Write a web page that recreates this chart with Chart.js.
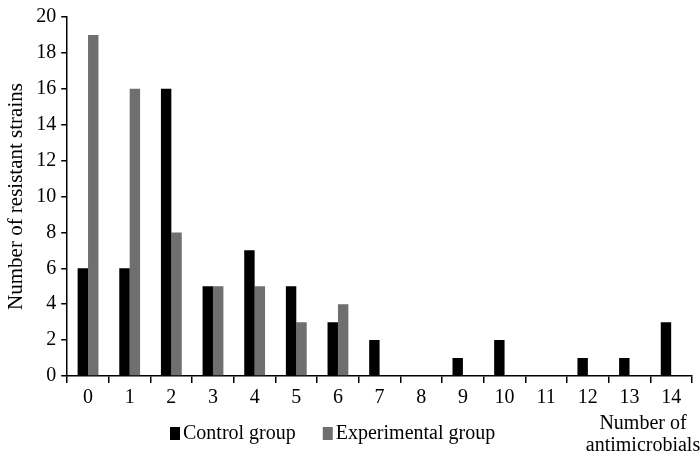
<!DOCTYPE html>
<html>
<head>
<meta charset="utf-8">
<script src="https://cdn.jsdelivr.net/npm/chart.js@4/dist/chart.umd.min.js"></script>
<style>
  html, body { margin: 0; padding: 0; background: #fff; }
  #wrap { width: 700px; height: 456px; position: relative; }
</style>
</head>
<body>
<div id="wrap"><canvas id="myChart"></canvas></div>
<script>
// data
var categories = ['0', '1', '2', '3', '4', '5', '6', '7', '8', '9', '10', '11', '12', '13', '14'];
var controlValues = [6, 6, 16, 5, 7, 5, 3, 2, 0, 1, 2, 0, 1, 1, 3];
var experimentalValues = [19, 16, 8, 5, 5, 3, 4, 0, 0, 0, 0, 0, 0, 0, 0];
var seriesNames = ['Control group', 'Experimental group'];
var seriesColors = ['#000000', '#6f6f6f'];
var yTitle = 'Number of resistant strains';
var xTitle = ['Number of', 'antimicrobials'];

var FONT = '"Liberation Serif", "Times New Roman", serif';

// legend + x title are drawn by hand so they can sit where the original has them
var bottomTexts = {
    id: 'bottomTexts',
    afterDraw: function (chart) {
        var ctx = chart.ctx;
        ctx.save();
        ctx.font = '20px ' + FONT;
        ctx.textBaseline = 'middle';
        var x = 170, y = 434;
        for (var i = 0; i < seriesNames.length; i++) {
            ctx.fillStyle = seriesColors[i];
            ctx.fillRect(x, y - 7, 10, 13);
            ctx.fillStyle = '#000';
            ctx.textAlign = 'left';
            ctx.fillText(seriesNames[i], x + 13, y);
            x += 13 + ctx.measureText(seriesNames[i]).width + 27;
        }
        ctx.textAlign = 'center';
        ctx.fillText(xTitle[0], 643, 424);
        ctx.fillText(xTitle[1], 643, 446);
        ctx.restore();
    }
};

var ctx = document.getElementById('myChart');
var myChart = new Chart(ctx, {
    type: 'bar',
    data: {
        labels: categories,
        datasets: [{
            label: seriesNames[0],
            data: controlValues,
            backgroundColor: seriesColors[0]
        }, {
            label: seriesNames[1],
            data: experimentalValues,
            backgroundColor: seriesColors[1]
        }]
    },
    options: {
        responsive: true,
        maintainAspectRatio: false,
        animation: false,
        layout: {
            padding: { top: 0, right: 8, bottom: 43, left: 4 }
        },
        datasets: {
            bar: { categoryPercentage: 0.5, barPercentage: 1.0 }
        },
        plugins: {
            legend: { display: false },
            tooltip: { enabled: false }
        },
        scales: {
            x: {
                grid: {
                    offset: true,
                    drawOnChartArea: false,
                    drawTicks: true,
                    tickLength: 7,
                    color: '#000',
                    lineWidth: 1.5
                },
                border: { display: true, color: '#000', width: 1.5 },
                ticks: {
                    color: '#000',
                    font: { family: FONT, size: 20 },
                    padding: 3,
                    maxRotation: 0
                }
            },
            y: {
                min: 0,
                max: 20,
                grid: {
                    drawOnChartArea: false,
                    drawTicks: true,
                    tickLength: 6,
                    color: '#000',
                    lineWidth: 1.5
                },
                border: { display: true, color: '#000', width: 1.5 },
                ticks: {
                    stepSize: 2,
                    color: '#000',
                    font: { family: FONT, size: 20 },
                    padding: 5
                },
                title: {
                    display: true,
                    text: yTitle,
                    color: '#000',
                    font: { family: FONT, size: 21 },
                    padding: { top: 0, bottom: 2 }
                }
            }
        }
    },
    plugins: [bottomTexts]
});
</script>
</body>
</html>
